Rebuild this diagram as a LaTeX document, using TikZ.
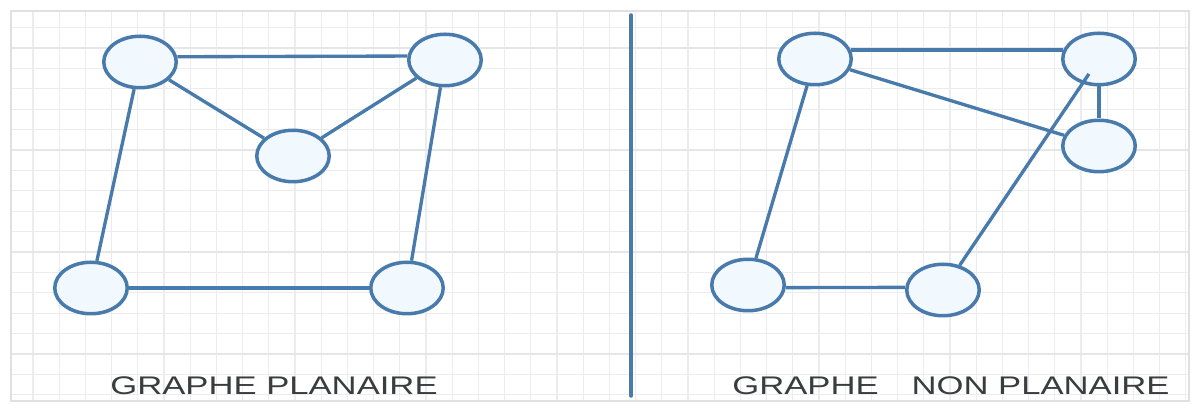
\documentclass[tikz,border=0pt]{standalone}
\usepackage{fontspec}
\setmainfont{Liberation Sans}
\usetikzlibrary{shapes.geometric}
\definecolor{GrBlue}{RGB}{72, 122, 172}
\definecolor{GrFill}{RGB}{241, 248, 254}
\definecolor{GrText}{RGB}{58, 60, 64}
\definecolor{GrMinor}{RGB}{236, 236, 238}
\definecolor{GrMajor}{RGB}{230, 230, 233}
\definecolor{GrFrame}{RGB}{224, 224, 228}

\begin{document}
\begin{tikzpicture}[
  x=0.02cm, y=-0.02cm,
  vertex/.style={draw=GrBlue, line width=2pt, fill=GrFill, ellipse,
                 inner sep=0pt, minimum width=1.45cm, minimum height=1.03cm},
  edge/.style={draw=GrBlue, line width=1.9pt},
  caption/.style={text=GrText, anchor=base, xscale=1.36,
                  font=\fontsize{14.5}{17}\selectfont},
  minor/.style={draw=GrMinor, line width=0.6pt},
  major/.style={draw=GrMajor, line width=0.7pt}
]
  \useasboundingbox (0,0) rectangle (1200,411);
  \fill[white] (0,0) rectangle (1200,411);

  %% Grid paper
  \foreach \k in {0,...,44}
    \draw[minor] ({33+26.2*\k},12) -- ({33+26.2*\k},400);
  \foreach \k in {0,...,18}
    \draw[minor] (12,{27.6+20.4*\k}) -- (1188,{27.6+20.4*\k});
  \foreach \k in {1,6,11,16}
    \draw[major] (12,{27.6+20.4*\k}) -- (1188,{27.6+20.4*\k});
  \draw[GrFrame, line width=1.2pt] (11,11) rectangle (1189,401);

  %% Nodes (planar graph)
  \node[vertex] (pa) at (140, 62)  {};
  \node[vertex] (pb) at (445, 60)  {};
  \node[vertex] (pc) at (293,156)  {};
  \node[vertex] (pd) at ( 91,288)  {};
  \node[vertex] (pe) at (407,288)  {};

  %% Nodes (non planar graph)
  \node[vertex] (na) at (815, 59)  {};
  \node[vertex] (nb) at (1099, 59) {};
  \node[vertex] (nc) at (1099,146) {};
  \node[vertex] (nd) at (748,285)  {};
  \node[vertex] (ne) at (943,290)  {};

  %% Edges
  \draw[edge] (pa.8)  -- (pb.174);
  \draw[edge] (pa)    -- (pc);
  \draw[edge] (pc)    -- (pb);
  \draw[edge] (pa)    -- (pd);
  \draw[edge] (pb)    -- (pe);
  \draw[edge] (pd)    -- (pe);

  \draw[edge] (na.14) -- (nb.166);
  \draw[edge] (na)    -- (nc);
  \draw[edge] (nb)    -- (nc);
  \draw[edge] (na)    -- (nd);
  \draw[edge] (nd.-4) -- (ne.176);
  \draw[edge, shorten >=0.36cm] (ne) -- (nb.center);

  %% Divider
  \coordinate (divtop) at (631, 15);
  \coordinate (divbot) at (631,396);
  \draw[edge, line width=2pt, line cap=round] (divtop) -- (divbot);

  %% Captions
  \node[caption] (capl) at (274,395) {GRAPHE PLANAIRE};
  \node[caption] (capr) at (951,395)
    {GRAPHE\hspace{0.95em}NON PLANAIRE};
\end{tikzpicture}
\end{document}
